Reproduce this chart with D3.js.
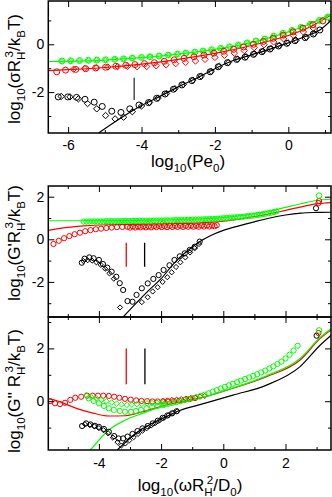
<!DOCTYPE html>
<html>
<head>
<meta charset="utf-8">
<script src="https://cdn.jsdelivr.net/npm/d3@7"></script>
<style>
  body { margin: 0; background: #fff; }
  svg { display: block; font-family: 'Liberation Sans', Arial, sans-serif; }
</style>
</head>
<body>
<script>
// ---- panel 1 : stress vs Pe0 ----
var p1GreenX = [-6.17,-5.93,-5.69,-5.45,-5.22,-4.98,-4.73,-4.49,-4.25,-4.0,-3.77,-3.52,-3.27,-3.02,-2.79,-2.55,-2.32,-2.09,-1.84,-1.6,-1.36,-1.12,-0.88,-0.64,-0.40,-0.15,0.10,0.35,0.60,0.85,1.08];
var p1GreenY = [-0.70,-0.69,-0.68,-0.67,-0.66,-0.65,-0.63,-0.61,-0.58,-0.55,-0.52,-0.49,-0.45,-0.41,-0.37,-0.33,-0.28,-0.23,-0.17,-0.10,-0.03,0.06,0.14,0.22,0.34,0.46,0.58,0.71,0.84,1.0,1.14];
var p1RedCircX = [-6.31,-6.07,-5.79,-5.52,-5.25,-4.98,-4.70,-4.43,-4.18,-3.92,-3.65,-3.38,-3.11,-2.84,-2.57,-2.30,-2.03,-1.76,-1.49,-1.22,-0.95,-0.68,-0.41,-0.14,0.13,0.40,0.67,0.94];
var p1RedCircY = [-1.15,-1.08,-1.05,-1.02,-0.99,-0.96,-0.92,-0.88,-0.85,-0.81,-0.77,-0.71,-0.65,-0.59,-0.52,-0.45,-0.37,-0.29,-0.21,-0.11,0.0,0.12,0.25,0.38,0.52,0.67,0.82,0.98];
var p1RedDiaX = [-5.85,-5.55,-5.22,-4.92,-4.65,-4.38,-4.12,-3.86,-3.6,-3.33,-3.07,-2.8,-2.53,-2.27,-2.0,-1.74,-1.47,-1.2,-0.93,-0.66,-0.4,-0.13,0.14,0.41,0.68];
var p1RedDiaY = [-1.04,-1.01,-0.98,-0.95,-0.93,-0.92,-0.94,-0.93,-0.90,-0.86,-0.81,-0.76,-0.70,-0.63,-0.55,-0.46,-0.37,-0.26,-0.14,-0.02,0.10,0.23,0.37,0.52,0.68];
var p1BlackCircX = [-6.27,-6.01,-5.77,-5.54,-5.29,-5.07,-4.81,-4.56,-4.32,-4.07,-3.81,-3.59,-3.36,-3.13,-2.90,-2.63,-2.41,-2.13,-1.91,-1.66,-1.41,-1.18,-0.95,-0.72,-0.50,-0.27,-0.04,0.18,0.46,0.68,0.86];
var p1BlackCircY = [-2.2,-2.2,-2.22,-2.3,-2.42,-2.6,-2.8,-2.85,-2.7,-2.54,-2.44,-2.26,-2.08,-1.88,-1.70,-1.52,-1.35,-1.15,-0.94,-0.77,-0.63,-0.54,-0.42,-0.31,-0.20,-0.07,0.04,0.15,0.28,0.43,0.60];
var p1BlackDiaX = [-6.19,-5.95,-5.72,-5.47,-5.22,-4.98,-4.72,-4.49,-4.25,-4.0,-3.78,-3.55,-3.32,-3.09,-2.86,-2.6,-2.37,-2.1,-1.88,-1.63,-1.38,-1.15,-0.92,-0.69,-0.47,-0.24,-0.01,0.21,0.49,0.71];
var p1BlackDiaY = [-2.18,-2.2,-2.28,-2.48,-2.70,-2.98,-3.12,-3.05,-2.82,-2.58,-2.43,-2.25,-2.06,-1.86,-1.68,-1.50,-1.33,-1.13,-0.92,-0.76,-0.62,-0.52,-0.40,-0.29,-0.18,-0.05,0.06,0.17,0.30,0.45];
var p1GreenLineX = [-6.54,-6,-5,-4,-3,-2,-1,-0.5,0,0.5,1.163];
var p1GreenLineY = [-0.72,-0.71,-0.66,-0.56,-0.41,-0.21,0.08,0.28,0.52,0.80,1.28];
var p1RedLineX = [-6.54,-6,-5,-4,-3,-2,-1,-0.5,0,0.5,1.163];
var p1RedLineY = [-1.10,-1.06,-0.97,-0.83,-0.63,-0.38,-0.05,0.15,0.37,0.66,1.22];
var p1BlackLineX = [-5.17,-4.5,-4,-3.5,-3,-2.5,-2,-1.5,-1,-0.5,0,0.5,0.86,1.163];
var p1BlackLineY = [-3.711,-3.02,-2.56,-2.18,-1.78,-1.42,-1.02,-0.68,-0.44,-0.2,0.06,0.35,0.60,1.0];
var p1MarkX = [-4.2];
var p1MarkY = [-1.4, -2.33];

// ---- panel 2 : G' ----
var p2GreenX = [-4.49,-4.40,-4.31,-4.22,-4.13,-4.04,-3.95,-3.86,-3.77,-3.68,-3.59,-3.50,-3.41,-3.32,-3.23,-3.14,-3.05,-2.96,-2.87,-2.78,-2.69,-2.60,-2.51,-2.42,-2.33,-2.24,-2.15,-2.06,-1.97,-1.88,-1.79,-1.70,-1.61,-1.52,-1.43,-1.34,-1.25,-1.16,-1.07,-0.98,-0.89,-0.80,-0.71,-0.62,-0.53,-0.44,-0.35,-0.26,-0.17,-0.08,0.01,0.10,0.19,0.28,0.37,0.46,0.55,0.64,0.73,0.82,0.91,1.00,1.09,1.18,1.27,1.36,1.45,1.54,1.63,1.71];
var p2GreenY = [0.83,0.83,0.83,0.84,0.84,0.84,0.84,0.84,0.85,0.85,0.85,0.85,0.85,0.85,0.86,0.86,0.86,0.86,0.86,0.86,0.87,0.87,0.87,0.87,0.87,0.88,0.88,0.88,0.88,0.89,0.89,0.89,0.89,0.90,0.90,0.90,0.91,0.91,0.91,0.92,0.92,0.93,0.93,0.94,0.94,0.95,0.96,0.96,0.97,0.98,0.99,1.00,1.01,1.02,1.03,1.04,1.05,1.06,1.08,1.09,1.10,1.12,1.14,1.16,1.18,1.20,1.22,1.25,1.28,1.31];
var p2RedX = [-5.46,-5.29,-5.12,-4.95,-4.78,-4.61,-4.44,-4.27,-4.10,-3.93,-3.76,-3.59,-3.42,-3.25,-3.08,-2.91,-2.74,-2.57,-2.40,-2.23,-2.06,-1.89,-1.72,-1.55,-1.38,-1.21,-1.04,-0.87,-0.70,-0.53,-0.36,-0.21];
var p2RedY = [-0.22,-0.07,0.05,0.15,0.24,0.31,0.38,0.43,0.47,0.50,0.53,0.55,0.57,0.58,0.59,0.60,0.60,0.61,0.61,0.62,0.62,0.62,0.63,0.63,0.63,0.64,0.64,0.64,0.65,0.65,0.65,0.66];
var p2RedBX = [-3.0,-2.83,-2.66,-2.49,-2.32,-2.15,-1.98,-1.81,-1.64,-1.47,-1.30,-1.13,-0.96,-0.79,-0.62,-0.45,-0.28];
var p2RedBY = [0.55,0.55,0.56,0.56,0.56,0.57,0.57,0.57,0.58,0.58,0.58,0.59,0.59,0.59,0.60,0.60,0.61];
var p2BlackCircX = [-4.55,-4.46,-4.31,-4.17,-4.0,-3.87,-3.73,-3.59,-3.44,-3.33,-3.22,-3.08,-2.92,-2.79,-2.62,-2.43,-2.25,-2.08,-1.92,-1.73,-1.57,-1.40,-1.24,-1.08,-0.92,-0.76];
var p2BlackCircY = [-1.10,-0.91,-0.85,-0.89,-0.97,-1.16,-1.33,-1.52,-1.76,-2.06,-2.38,-2.90,-2.93,-2.61,-2.30,-2.07,-1.86,-1.68,-1.44,-1.22,-0.97,-0.80,-0.66,-0.50,-0.35,-0.11];
var p2BlackDiaX = [-4.50,-4.36,-4.22,-4.08,-3.94,-3.80,-3.66,-3.52,-3.32,-2.62,-2.43,-2.27,-2.11,-1.95,-1.80,-1.66,-1.52,-1.38,-1.22,-1.07,-0.92,-0.78];
var p2BlackDiaY = [-1.02,-0.98,-1.0,-1.08,-1.2,-1.38,-1.6,-1.85,-3.2,-2.95,-2.72,-2.45,-2.25,-2.0,-1.78,-1.55,-1.3,-1.08,-0.85,-0.62,-0.42,-0.22];
var p2EndGreenX = [3.08], p2EndGreenY = [2.05];
var p2EndRedX = [3.06, 3.08], p2EndRedY = [1.70, 1.80];
var p2EndBlackX = [2.98], p2EndBlackY = [1.46];
var p2GreenLineX = [-5.63,-4.5,-3,-2,-1,-0.5,0,0.5,1,1.5,2,2.5,3,3.463];
var p2GreenLineY = [0.87,0.87,0.88,0.90,0.94,0.97,1.02,1.10,1.20,1.33,1.50,1.67,1.82,1.88];
var p2RedLineX = [-5.63,-5.3,-5,-4.5,-4,-3,-2,-1,-0.5,0,0.5,1,1.5,2,2.5,3,3.463];
var p2RedLineY = [0.42,0.50,0.56,0.63,0.67,0.70,0.72,0.76,0.79,0.85,0.95,1.07,1.20,1.36,1.52,1.66,1.72];
var p2BlackLineX = [-3.22,-2.8,-2.4,-2.0,-1.6,-1.2,-0.8,-0.4,0,0.5,1,1.5,2,2.5,3,3.463];
var p2BlackLineY = [-3.648,-3.0,-2.4,-1.85,-1.15,-0.6,-0.15,0.18,0.42,0.63,0.82,1.0,1.14,1.23,1.26,1.27];
var p2MarkRedX = [-3.12], p2MarkBlackX = [-2.53];
var p2MarkY = [-0.16, -1.29];

// ---- panel 3 : G'' ----
var p3RedCircX = [-5.57,-5.41,-5.25,-5.09,-4.92,-4.76,-4.57,-4.38,-4.20,-4.03,-3.86,-3.68,-3.51,-3.34,-3.16,-2.98,-2.80,-2.63,-2.45,-2.28,-2.11,-1.93,-1.76,-1.59,-1.42,-1.25,-1.08,-0.91];
var p3RedCircY = [0.0,-0.08,-0.11,-0.06,0.05,0.13,0.17,0.21,0.21,0.21,0.21,0.20,0.17,0.13,0.09,0.06,0.03,0.01,0.0,-0.01,-0.01,-0.01,-0.01,0.0,0.02,0.05,0.08,0.12];
var p3RedDiaX = [-1.95,-1.80,-1.65,-1.50,-1.35,-1.20,-1.05,-0.90,-0.75,-0.60];
var p3RedDiaY = [0.02,0.03,0.05,0.06,0.08,0.10,0.12,0.14,0.17,0.20];
var p3GreenCircX = [-4.33,-4.17,-4.0,-3.84,-3.68,-3.52,-3.33,-3.16,-2.97,-2.81,-2.65,-2.47,-2.29,-2.11,-1.95];
var p3GreenCircY = [0.11,0.01,-0.08,-0.18,-0.27,-0.33,-0.37,-0.40,-0.40,-0.37,-0.33,-0.27,-0.21,-0.18,-0.14];
var p3GreenDiaX = [-4.41,-4.25,-4.08,-3.92,-3.76,-3.59,-3.43,-3.27,-3.10,-2.94,-2.78,-2.62,-2.45,-2.29,-2.13,-1.97];
var p3GreenDiaY = [0.23,0.17,0.11,0.05,0.0,-0.05,-0.09,-0.12,-0.14,-0.13,-0.11,-0.10,-0.08,-0.07,-0.06,-0.05];
var p3GreenHighX = [-1.90,-1.77,-1.64,-1.51,-1.38,-1.25,-1.12,-0.99,-0.86,-0.73,-0.60,-0.47,-0.34,-0.21,-0.08,0.05,0.18,0.31,0.44,0.57,0.70,0.83,0.96,1.09,1.22,1.35,1.48,1.61,1.74,1.87,2.00,2.13,2.26,2.39];
var p3GreenHighY = [-0.13,-0.10,-0.07,-0.03,0.0,0.04,0.08,0.12,0.16,0.20,0.25,0.30,0.36,0.42,0.48,0.54,0.60,0.66,0.72,0.78,0.84,0.90,0.96,1.02,1.09,1.16,1.24,1.32,1.41,1.50,1.62,1.76,1.92,2.10];
var p3BlackCircX = [-4.54,-4.41,-4.27,-4.13,-4.0,-3.84,-3.68,-3.51,-3.37,-3.22,-3.08,-2.92,-2.76,-2.60,-2.43,-2.27,-2.11,-1.95,-1.80,-1.65,-1.50];
var p3BlackCircY = [-0.94,-0.84,-0.88,-0.93,-0.97,-1.05,-1.16,-1.32,-1.41,-1.41,-1.34,-1.24,-1.13,-1.03,-0.94,-0.84,-0.74,-0.63,-0.54,-0.46,-0.38];
var p3BlackDiaX = [-4.45,-4.30,-4.15,-4.0,-3.85,-3.70,-3.55,-3.40,-3.28,-3.15,-3.02,-2.88,-2.74,-2.60,-2.46,-2.32,-2.18,-2.04,-1.90,-1.76,-1.62,-1.48];
var p3BlackDiaY = [-0.87,-0.90,-0.95,-1.02,-1.10,-1.22,-1.38,-1.55,-1.68,-1.60,-1.48,-1.36,-1.24,-1.12,-1.02,-0.92,-0.82,-0.72,-0.62,-0.53,-0.45,-0.38];
var p3EndGreenX = [3.08], p3EndGreenY = [2.68];
var p3EndRedX = [3.06], p3EndRedY = [2.58];
var p3EndBlackX = [3.0], p3EndBlackY = [2.48];
var p3RedLineX = [-5.68,-5.3,-5.09,-4.7,-4.22,-3.68,-3.14,-2.6,-1.95,-1.4,-0.78,0.31,1.39,2.47,3.12,3.47];
var p3RedLineY = [0.11,0.0,-0.1,-0.28,-0.44,-0.56,-0.55,-0.40,-0.18,-0.03,0.11,0.49,0.93,1.56,2.38,2.7];
var p3GreenLineX = [-4.27,-3.68,-3.14,-2.6,-1.95,-1.4,-0.78,0.31,1.39,2.47,3.12,3.47];
var p3GreenLineY = [-1.848,-1.09,-0.71,-0.46,-0.2,-0.04,0.12,0.5,0.96,1.62,2.42,2.75];
var p3BlackLineX = [-3.41,-2.7,-1.95,-1.4,-0.78,0.31,1.39,2.47,3.12,3.47];
var p3BlackLineY = [-1.848,-1.12,-0.65,-0.35,-0.14,0.23,0.61,1.31,2.13,2.5];
var p3MarkRedX = [-3.12], p3MarkBlackX = [-2.52];
var p3MarkY = [2.0, 0.64];

// tick values
var p1XMajor = [-6,-4,-2,0], p1XMinor = [-5,-3,-1,1];
var p1YMajor = [-2,0], p1YMinor = [-3,-1,1];
var p23XMajor = [-4,-2,0,2], p23XMinor = [-5,-3,-1,1,3];
var p2YMajor = [-2,0,2], p2YMinor = [-3,-1,1];
var p3YMajor = [0,2], p3YMinor = [-1,1,3];

var GREEN = '#00ff00', RED = '#ff0000', BLACK = '#000000';

var svg = d3.select('body').append('svg')
	.attr('width', 332).attr('height', 497);

var left = 48.3, right = 331;

function zip(xs, ys) {
	return xs.map(function(d, i) { return [d, ys[i]]; });
}

// one framed panel with inward ticks on all four sides
function makePanel(id, top, bottom, xDom, yDom, ticks) {
	var x = d3.scaleLinear().domain(xDom).range([left, right]);
	var y = d3.scaleLinear().domain(yDom).range([bottom, top]);
	var g = svg.append('g');

	svg.append('clipPath').attr('id', 'clip-' + id)
		.append('rect').attr('x', left).attr('y', top)
		.attr('width', right - left).attr('height', bottom - top);

	var plot = g.append('g').attr('clip-path', 'url(#clip-' + id + ')');

	var fmt = function(d) { return String(d); };
	var none = function() { return ''; };

	function axis(maker, vals, size, label, pad, tr) {
		var a = maker.tickValues(vals).tickSizeInner(-size).tickSizeOuter(0)
			.tickPadding(pad).tickFormat(label ? fmt : none);
		var ag = g.append('g').attr('transform', tr).call(a);
		ag.select('.domain').remove();
		ag.selectAll('line').attr('stroke', '#000').attr('stroke-width', 1);
		ag.selectAll('text').attr('font-size', 14).attr('fill', '#000')
			.attr('font-family', "'Liberation Sans', Arial, sans-serif");
		return ag;
	}
	axis(d3.axisBottom(x), ticks.xMajor, 6, ticks.xLabels, ticks.xPad, `translate(0,${bottom})`);
	axis(d3.axisBottom(x), ticks.xMinor, 3, false, 0, `translate(0,${bottom})`);
	axis(d3.axisTop(x), ticks.xMajor, 6, false, 0, `translate(0,${top})`);
	axis(d3.axisTop(x), ticks.xMinor, 3, false, 0, `translate(0,${top})`);
	axis(d3.axisLeft(y), ticks.yMajor, 6, true, 4, `translate(${left},0)`);
	axis(d3.axisLeft(y), ticks.yMinor, 3, false, 0, `translate(${left},0)`);
	axis(d3.axisRight(y), ticks.yMajor, 6, false, 0, `translate(${right},0)`);
	axis(d3.axisRight(y), ticks.yMinor, 3, false, 0, `translate(${right},0)`);

	g.append('rect').attr('x', left).attr('y', top)
		.attr('width', right - left).attr('height', bottom - top)
		.attr('fill', 'none').attr('stroke', '#000').attr('stroke-width', 1.5);

	return { x: x, y: y, plot: plot, g: g };
}

function drawLine(p, xs, ys, color) {
	var line = d3.line()
		.x(function(d) { return p.x(d[0]); })
		.y(function(d) { return p.y(d[1]); })
		.curve(d3.curveMonotoneX);
	p.plot.append('path').datum(zip(xs, ys))
		.attr('d', line).attr('fill', 'none')
		.attr('stroke', color).attr('stroke-width', 1.2);
}

function drawCircles(p, xs, ys, color, r) {
	p.plot.append('g').selectAll('circle')
		.data(zip(xs, ys)).enter().append('circle')
		.attr('cx', function(d) { return p.x(d[0]); })
		.attr('cy', function(d) { return p.y(d[1]); })
		.attr('r', r).attr('fill', 'none')
		.attr('stroke', color).attr('stroke-width', 1);
}

function drawDiamonds(p, xs, ys, color, s) {
	p.plot.append('g').selectAll('path')
		.data(zip(xs, ys)).enter().append('path')
		.attr('d', `M0,${-s}L${s},0L0,${s}L${-s},0Z`)
		.attr('transform', function(d) { return `translate(${p.x(d[0])},${p.y(d[1])})`; })
		.attr('fill', 'none').attr('stroke', color).attr('stroke-width', 1);
}

function drawBar(p, xv, yv, color) {
	p.plot.append('line')
		.attr('x1', p.x(xv)).attr('x2', p.x(xv))
		.attr('y1', p.y(yv[0])).attr('y2', p.y(yv[1]))
		.attr('stroke', color).attr('stroke-width', 1.3);
}

// text with sub / superscripts; back pulls a script under the previous one
function richText(x, y, rot, segs, size) {
	var t = svg.append('text')
		.attr('transform', `translate(${x},${y}) rotate(${rot})`)
		.attr('text-anchor', 'middle').attr('font-size', size).attr('fill', '#000');
	var cur = 0, prev = null;
	segs.forEach(function(s) {
		var off = s.sub ? size * 0.32 : (s.sup ? -size * 0.42 : 0);
		var ts = t.append('tspan').text(s.t)
			.attr('dy', off - cur)
			.attr('font-size', (s.sub || s.sup) ? size * 0.68 : size);
		if (s.back && prev) ts.attr('dx', -prev.node().getComputedTextLength() * s.back);
		cur = off;
		prev = ts;
	});
}

// ---- panel 1 ----
var p1 = makePanel('p1', 1, 133, [-6.54, 1.163], [-3.711, 1.812],
	{ xMajor: p1XMajor, xMinor: p1XMinor, yMajor: p1YMajor, yMinor: p1YMinor, xLabels: true, xPad: 7 });
drawLine(p1, p1GreenLineX, p1GreenLineY, GREEN);
drawLine(p1, p1RedLineX, p1RedLineY, RED);
drawLine(p1, p1BlackLineX, p1BlackLineY, BLACK);
drawCircles(p1, p1GreenX, p1GreenY, GREEN, 3);
drawDiamonds(p1, p1GreenX, p1GreenY, GREEN, 2.6);
drawCircles(p1, p1RedCircX, p1RedCircY, RED, 3);
drawDiamonds(p1, p1RedDiaX, p1RedDiaY, RED, 3.2);
drawCircles(p1, p1BlackCircX, p1BlackCircY, BLACK, 3);
drawDiamonds(p1, p1BlackDiaX, p1BlackDiaY, BLACK, 3.2);
drawBar(p1, p1MarkX[0], p1MarkY, '#333');

// ---- panel 2 ----
var p2 = makePanel('p2', 186, 317, [-5.627, 3.463], [-3.648, 2.502],
	{ xMajor: p23XMajor, xMinor: p23XMinor, yMajor: p2YMajor, yMinor: p2YMinor, xLabels: false, xPad: 0 });
drawLine(p2, p2GreenLineX, p2GreenLineY, GREEN);
drawLine(p2, p2RedLineX, p2RedLineY, RED);
drawLine(p2, p2BlackLineX, p2BlackLineY, BLACK);
drawCircles(p2, p2RedX, p2RedY, RED, 2.6);
drawCircles(p2, p2RedBX, p2RedBY, RED, 2.6);
drawCircles(p2, p2GreenX, p2GreenY, GREEN, 2.6);
drawCircles(p2, p2BlackCircX, p2BlackCircY, BLACK, 2.6);
drawDiamonds(p2, p2BlackDiaX, p2BlackDiaY, BLACK, 2.6);
drawCircles(p2, p2EndBlackX, p2EndBlackY, BLACK, 2.6);
drawCircles(p2, p2EndRedX, p2EndRedY, RED, 2.6);
drawCircles(p2, p2EndGreenX, p2EndGreenY, GREEN, 2.8);
drawBar(p2, p2MarkRedX[0], p2MarkY, RED);
drawBar(p2, p2MarkBlackX[0], p2MarkY, BLACK);

// ---- panel 3 ----
var p3 = makePanel('p3', 317, 450, [-5.627, 3.463], [-1.848, 3.189],
	{ xMajor: p23XMajor, xMinor: p23XMinor, yMajor: p3YMajor, yMinor: p3YMinor, xLabels: true, xPad: 8 });
drawLine(p3, p3RedLineX, p3RedLineY, RED);
drawLine(p3, p3GreenLineX, p3GreenLineY, GREEN);
drawLine(p3, p3BlackLineX, p3BlackLineY, BLACK);
drawCircles(p3, p3RedCircX, p3RedCircY, RED, 2.6);
drawDiamonds(p3, p3RedDiaX, p3RedDiaY, RED, 2.6);
drawCircles(p3, p3BlackCircX, p3BlackCircY, BLACK, 2.6);
drawDiamonds(p3, p3BlackDiaX, p3BlackDiaY, BLACK, 2.6);
drawCircles(p3, p3GreenCircX, p3GreenCircY, GREEN, 2.6);
drawDiamonds(p3, p3GreenDiaX, p3GreenDiaY, GREEN, 2.8);
drawCircles(p3, p3GreenHighX, p3GreenHighY, GREEN, 2.6);
drawCircles(p3, p3EndBlackX, p3EndBlackY, BLACK, 2.6);
drawCircles(p3, p3EndRedX, p3EndRedY, RED, 2.6);
drawCircles(p3, p3EndGreenX, p3EndGreenY, GREEN, 2.8);
drawBar(p3, p3MarkRedX[0], p3MarkY, RED);
drawBar(p3, p3MarkBlackX[0], p3MarkY, BLACK);

// ---- axis titles ----
richText(20, 69, -90, [
	{t: 'log'}, {t: '10', sub: 1}, {t: '(σR'}, {t: 'H', sub: 1}, {t: '3', sup: 1, back: 0.7},
	{t: '/k'}, {t: 'B', sub: 1}, {t: 'T)'}], 17);
richText(188, 166.5, 0, [
	{t: 'log'}, {t: '10', sub: 1}, {t: '(Pe'}, {t: '0', sub: 1}, {t: ')'}], 17);
richText(20, 243, -90, [
	{t: 'log'}, {t: '10', sub: 1}, {t: "(G'R"}, {t: 'H', sub: 1}, {t: '3', sup: 1, back: 0.7},
	{t: '/k'}, {t: 'B', sub: 1}, {t: 'T)'}], 17);
richText(20, 391, -90, [
	{t: 'log'}, {t: '10', sub: 1}, {t: "(G'' R"}, {t: 'H', sub: 1}, {t: '3', sup: 1, back: 0.7},
	{t: '/k'}, {t: 'B', sub: 1}, {t: 'T)'}], 17);
richText(190, 491, 0, [
	{t: 'log'}, {t: '10', sub: 1}, {t: '(ωR'}, {t: 'H', sub: 1}, {t: '2', sup: 1, back: 0.7},
	{t: '/D'}, {t: '0', sub: 1}, {t: ')'}], 17);
</script>
</body>
</html>
